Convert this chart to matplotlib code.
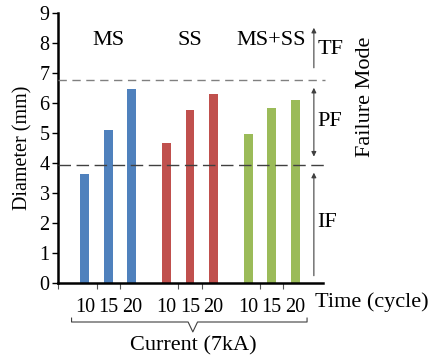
import matplotlib
matplotlib.use("Agg")
import matplotlib.pyplot as plt

plt.rcParams['font.family'] = ['Liberation Serif', 'DejaVu Serif']

groups = ["MS", "SS", "MS+SS"]
cycles = ["10", "15", "20"]
ms_vals = [3.62, 5.10, 6.48]
ss_vals = [4.65, 5.76, 6.29]
msss_vals = [4.97, 5.84, 6.11]
colors = ["#4F81BD", "#C0504D", "#9BBB59"]
if_limit = 3.92
tf_limit = 6.75

fig = plt.figure(figsize=(4.29, 3.59), dpi=100)
ax = fig.add_axes([0.135, 0.2117, 0.753 - 0.135, 0.9638 - 0.2117])

first_offset = 1.15
group_gap = 3.47
bar_w = 0.38
xmax = 11.28
big = 16

all_x = []
all_lbl = []
minor = [0.0]
for g, vals in enumerate([ms_vals, ss_vals, msss_vals]):
    xs = [first_offset + g * group_gap + i for i in range(len(vals))]
    ax.bar(xs, vals, width=bar_w, color=colors[g], zorder=2)
    all_x += xs
    all_lbl += cycles
    minor += [x + 0.5 for x in xs[:-1]]
    ax.text(xs[1], 8.07, groups[g], ha='center', va='center', fontsize=big)

ax.set_xlim(0, xmax)
ax.set_ylim(0, 9)
ax.set_yticks(range(0, 10))
ax.tick_params(axis='y', labelsize=14.5, length=4, width=1, direction='out', pad=2)
ax.set_xticks(all_x)
ax.set_xticklabels(all_lbl)
ax.set_xticks(minor, minor=True)
ax.tick_params(axis='x', which='major', length=0, labelsize=14.5, pad=11)
ax.tick_params(axis='x', which='minor', length=4, width=0.8, color='#555555')
for s in ['top', 'right']:
    ax.spines[s].set_visible(False)
for s in ['left', 'bottom']:
    ax.spines[s].set_linewidth(1.8)

ax.set_ylabel("Diameter (mm)", fontsize=14.5, labelpad=5)

# failure mode boundaries
line_end = 11.36
ax.plot([0, line_end], [tf_limit, tf_limit], ls=(0, (6, 4)), color='#808080',
        lw=1.0, clip_on=False, zorder=3)
ax.plot([0, line_end], [if_limit, if_limit], ls=(0, (9, 4)), color='#404040',
        lw=1.0, clip_on=False, zorder=3)

# failure mode arrows
ax_x = 10.89
akw = dict(arrowstyle='-|>', color='#404040', lw=0.8, mutation_scale=7)
ax.annotate('', xy=(ax_x, 8.6), xytext=(ax_x, tf_limit + 0.33),
            arrowprops=akw, annotation_clip=False)
ax.annotate('', xy=(ax_x, tf_limit - 0.15), xytext=(ax_x, if_limit + 0.2),
            arrowprops=dict(arrowstyle='<|-|>', color='#404040', lw=0.8,
                            mutation_scale=7), annotation_clip=False)
ax.annotate('', xy=(ax_x, if_limit - 0.15), xytext=(ax_x, 0.15),
            arrowprops=akw, annotation_clip=False)
ax.text(11.04, 7.77, "TF", fontsize=big, va='center', ha='left')
ax.text(11.04, 5.37, "PF", fontsize=big, va='center', ha='left')
ax.text(11.02, 2.0, "IF", fontsize=big, va='center', ha='left')
ax.text(13.1, 6.2, "Failure Mode", fontsize=big, va='center', ha='center',
        rotation=90)
ax.text(10.92, -0.63, "Time (cycle)", fontsize=big, va='center', ha='left')

# brace under the x axis
bl, br, bm = 0.58, 10.6, 5.74
ax.plot([bl, bl, bm - 0.2, bm, bm + 0.2, br, br],
        [-1.17, -1.3, -1.3, -1.63, -1.3, -1.3, -1.17],
        color='#404040', lw=0.8, clip_on=False)
ax.text(bm, -2.08, "Current (7kA)", fontsize=big, ha='center', va='center')

fig.savefig("out.png", dpi=100)
